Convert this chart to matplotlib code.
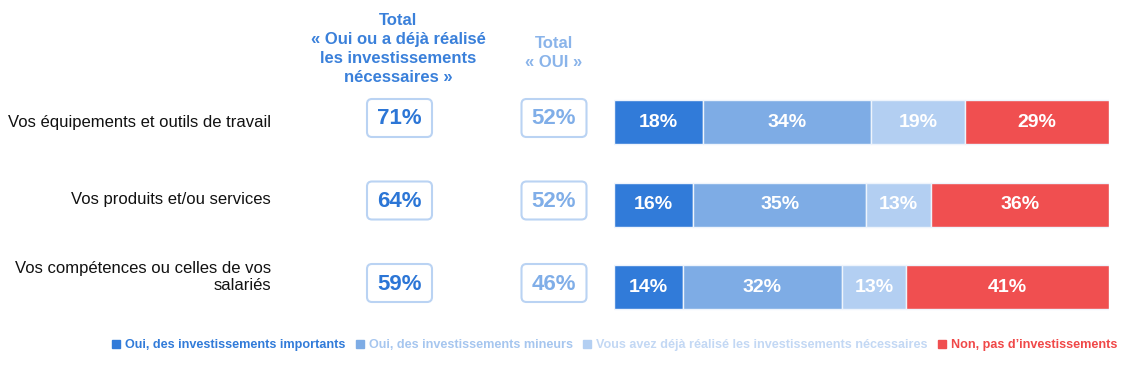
import matplotlib
matplotlib.use('Agg')
import matplotlib.pyplot as plt
from matplotlib.patches import FancyBboxPatch
from matplotlib.lines import Line2D

plt.rcParams['font.family'] = ['Liberation Sans', 'DejaVu Sans']

# ---------------- data ----------------
categories = ["Vos équipements et outils de travail",
              "Vos produits et/ou services",
              "Vos compétences ou celles de vos\nsalariés"]
series_names = ["Oui, des investissements importants",
                "Oui, des investissements mineurs",
                "Vous avez déjà réalisé les investissements nécessaires",
                "Non, pas d’investissements"]
oui_importants = [18, 16, 14]
oui_mineurs = [34, 35, 32]
deja_realise = [19, 13, 13]
non_invest = [29, 36, 41]
total_oui_ou_deja = [71, 64, 59]
total_oui = [52, 52, 46]
header_1 = "Total\n« Oui ou a déjà réalisé\nles investissements\nnécessaires »"
header_2 = "Total\n« OUI »"

series = [oui_importants, oui_mineurs, deja_realise, non_invest]
colors = ['#317bd9', '#7eace5', '#b3cff2', '#f04f50']
legend_text_colors = ['#317bd9', '#a6c6ef', '#c3d8f4', '#f04848']

W, H = 1145, 366
fig = plt.figure(figsize=(W / 100, H / 100), dpi=100)

# row geometry (pixels from top)
row0 = 122.0
step = 82.5
bar_left, bar_w = 614, 495

# ---------------- bars ----------------
ax = fig.add_axes([bar_left / W, 1 - (row0 + 2 * step + step / 2) / H,
                   bar_w / W, 3 * step / H])
ax.set_xlim(0, 100)
ax.set_ylim(2.5, -0.5)
ax.axis('off')
ypos = list(range(len(categories)))
left = [0] * len(categories)
for vals, col in zip(series, colors):
    bars = ax.barh(ypos, vals, left=left, height=44 / step, color=col,
                   edgecolor='#eef4fc', linewidth=1.0)
    for b, v in zip(bars, vals):
        ax.text(b.get_x() + b.get_width() / 2, b.get_y() + b.get_height() / 2,
                f"{v}%", ha='center', va='center', color='white',
                fontsize=14, fontweight='bold')
    left = [l + v for l, v in zip(left, vals)]

# ---------------- overlay (pixel coordinates) ----------------
ov = fig.add_axes([0, 0, 1, 1], zorder=-1)
ov.set_xlim(0, W)
ov.set_ylim(H, 0)
ov.axis('off')

ov.text(398, 49, header_1, ha='center', va='center', color='#3a80da',
        fontsize=12, fontweight='bold', linespacing=1.34)
ov.text(554, 53, header_2, ha='center', va='center', color='#8ab4ea',
        fontsize=12, fontweight='bold', linespacing=1.34)

label_y_offsets = [0, -5, -10]
for i, cat in enumerate(categories):
    yc = row0 + i * step
    ov.text(271, yc + label_y_offsets[i], cat,
            ha='right', va='center', color='#111111', fontsize=12,
            linespacing=1.2)
    by = yc - 4
    for xc, val, tcol in [(399.5, total_oui_ou_deja[i], '#2c76d6'),
                          (554, total_oui[i], '#80aee8')]:
        box = FancyBboxPatch((xc - 32.5, by - 19), 65, 38,
                             boxstyle='round,pad=0,rounding_size=5',
                             facecolor='white', edgecolor='#bad3f3', linewidth=1.5)
        ov.add_patch(box)
        ov.text(xc, by + 1, f"{val}%", ha='center', va='center', color=tcol,
                fontsize=16, fontweight='bold')

# ---------------- legend ----------------
handles = [Line2D([], [], marker='s', linestyle='none', color=c, markersize=5.5)
           for c in colors]
leg = fig.legend(handles, series_names, loc='center', ncol=4,
                 bbox_to_anchor=(614 / W, 1 - 345 / H), frameon=False,
                 handletextpad=0.3, columnspacing=0.75, handlelength=0.8,
                 prop={'size': 9.1, 'weight': 'bold'})
for t, c in zip(leg.get_texts(), legend_text_colors):
    t.set_color(c)

fig.savefig('out.png', dpi=100, facecolor='white')
